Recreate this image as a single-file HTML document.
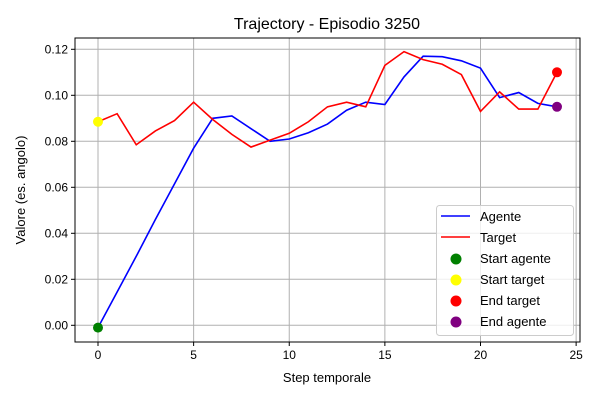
<!DOCTYPE html>
<html><head><meta charset="utf-8"><style>body{margin:0;background:#fff}svg{display:block;font-family:"Liberation Sans","DejaVu Sans",sans-serif}</style></head>
<body>
<svg id="c" width="600" height="400" xmlns="http://www.w3.org/2000/svg"></svg>
<script>
const steps=[0,1,2,3,4,5,6,7,8,9,10,11,12,13,14,15,16,17,18,19,20,21,22,23,24];
const agente=[-0.001,0.0145,0.030,0.046,0.0615,0.077,0.090,0.091,0.0855,0.080,0.081,0.0837,0.0875,0.0935,0.097,0.096,0.108,0.117,0.1168,0.115,0.1118,0.099,0.1012,0.0965,0.095];
const target=[0.0885,0.092,0.0785,0.0845,0.089,0.097,0.0895,0.083,0.0775,0.0805,0.0835,0.0885,0.095,0.097,0.095,0.113,0.119,0.1155,0.1135,0.109,0.093,0.1015,0.094,0.094,0.110];
const xTicks=[0,5,10,15,20,25];
const yTicks=[0,0.02,0.04,0.06,0.08,0.10,0.12];
const L=75,R=580,T=38,B=342;
const X=v=>98+v*19.125;
const Y=v=>325.3-v*2300;
const svg=document.getElementById('c');
const NS='http://www.w3.org/2000/svg';
function mk(t,a,txt){const e=document.createElementNS(NS,t);for(const k in a)e.setAttribute(k,a[k]);if(txt!==undefined)e.textContent=txt;svg.appendChild(e);return e;}
let e;
e=mk('text',{x:327,y:29,'text-anchor':'middle','font-size':16},'Trajectory - Episodio 3250');


xTicks.forEach(t=>{
 e=mk('line',{x1:X(t),x2:X(t),y1:T,y2:B,stroke:'#b0b0b0','stroke-width':1});
 
 
 mk('line',{x1:X(t),x2:X(t),y1:B,y2:B+4,stroke:'#000'});
 e=mk('text',{x:X(t),y:B+17,'text-anchor':'middle','font-size':12},String(t));
 
 
});
yTicks.forEach(t=>{
 e=mk('line',{x1:L,x2:R,y1:Y(t),y2:Y(t),stroke:'#b0b0b0','stroke-width':1});
 
 
 mk('line',{x1:L-4,x2:L,y1:Y(t),y2:Y(t),stroke:'#000'});
 e=mk('text',{x:L-7,y:Y(t)+4,'text-anchor':'end','font-size':12},t.toFixed(2));
 
 
});
function line(arr,col,name){
 e=mk('polyline',{points:arr.map((v,i)=>X(steps[i])+','+Y(v)).join(' '),fill:'none',stroke:col,'stroke-width':1.6});
 
 
}
line(agente,'#0000ff','agente-line');
line(target,'#ff0000','target-line');
function dot(x,y,col,name){
 e=mk('circle',{cx:X(x),cy:Y(y),r:5,fill:col});
 
 
}
const n=steps.length-1;
dot(steps[0],agente[0],'#008000','start-agente-point');
dot(steps[0],target[0],'#ffff00','start-target-point');
dot(steps[n],target[n],'#ff0000','end-target-point');
dot(steps[n],agente[n],'#800080','end-agente-point');
e=mk('rect',{x:L,y:T,width:R-L,height:B-T,fill:'none',stroke:'#000','stroke-width':1});


e=mk('text',{x:327,y:382,'text-anchor':'middle','font-size':13},'Step temporale');


e=mk('text',{x:0,y:0,'text-anchor':'middle','font-size':13,transform:'translate(25,190) rotate(-90)'},'Valore (es. angolo)');


e=mk('rect',{x:436.5,y:205.5,width:137,height:130,rx:3,fill:'#fff','fill-opacity':0.8,stroke:'#ccc'});


const leg=[['line','#0000ff','Agente'],['line','#ff0000','Target'],['dot','#008000','Start agente'],['dot','#ffff00','Start target'],['dot','#ff0000','End target'],['dot','#800080','End agente']];
leg.forEach((l,i)=>{
 const y=216+i*21;
 if(l[0]==='line') mk('line',{x1:441,x2:470,y1:y,y2:y,stroke:l[1],'stroke-width':1.6});
 else mk('circle',{cx:456,cy:y+1,r:5.5,fill:l[1]});
 e=mk('text',{x:480,y:y+5,'font-size':13},l[2]);
 
 
});
</script>
</body></html>
